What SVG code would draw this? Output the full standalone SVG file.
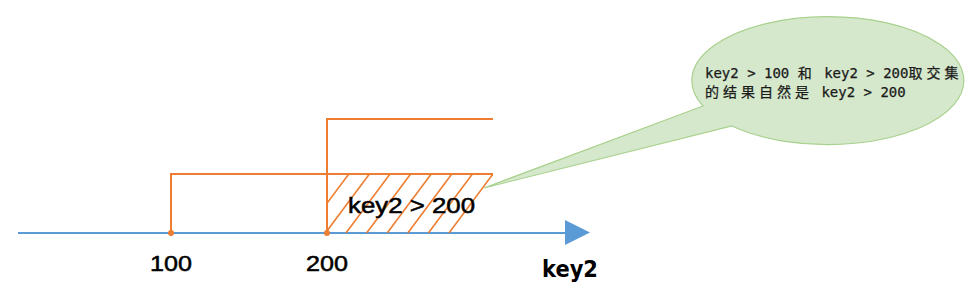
<svg xmlns="http://www.w3.org/2000/svg" width="971" height="295" viewBox="0 0 971 295">
<style>
.or{stroke:#ED7D31;stroke-width:2;fill:none}
.hatch{stroke:#ED7D31;stroke-width:1.6;fill:none}
.lbl{font-family:"Liberation Sans",Arial,sans-serif;font-size:22px;fill:#000;stroke:#000;stroke-width:0.5}
.cj{font-family:"DejaVu Sans Mono","Noto Sans CJK SC",monospace;font-size:14px;fill:#1a1a1a;stroke:#1a1a1a;stroke-width:0.25}
.cjk{font-family:"Noto Sans CJK SC",sans-serif;letter-spacing:4px}
</style>
<defs>
<clipPath id="hc"><rect x="327" y="174" width="166" height="59"/></clipPath>
</defs>
<rect width="971" height="295" fill="#fff"/>
<g id="connectors">
<line x1="18" y1="233" x2="567" y2="233" stroke="#5B9BD5" stroke-width="2"/>
<polygon points="565,220 590,232.5 565,245" fill="#5B9BD5"/>
<polyline class="or" points="171,233 171,174 493,174"/>
<polyline class="or" points="327,233 327,119 493,119"/>
<g clip-path="url(#hc)" class="hatch">
<line x1="493" y1="174" x2="449" y2="233"/>
<line x1="472.4" y1="174" x2="428.4" y2="233"/>
<line x1="451.8" y1="174" x2="407.8" y2="233"/>
<line x1="431.2" y1="174" x2="387.2" y2="233"/>
<line x1="410.6" y1="174" x2="366.6" y2="233"/>
<line x1="390" y1="174" x2="346" y2="233"/>
<line x1="369.4" y1="174" x2="325.4" y2="233"/>
<line x1="348.8" y1="174" x2="304.8" y2="233"/>
</g>
<circle cx="171" cy="233" r="3" fill="#ED7D31"/>
<circle cx="327" cy="233" r="3" fill="#ED7D31"/>
</g>
<g id="range-label">
<text class="lbl" x="348" y="213" textLength="127" lengthAdjust="spacingAndGlyphs">key2 &gt; 200</text>
</g>
<g id="tick-100"><text class="lbl" x="150" y="271" textLength="42" lengthAdjust="spacingAndGlyphs">100</text></g>
<g id="tick-200"><text class="lbl" x="306" y="271" textLength="42" lengthAdjust="spacingAndGlyphs">200</text></g>
<g id="axis-label"><text x="542" y="277" font-family="'DejaVu Sans',sans-serif" font-weight="bold" font-size="23" textLength="56" lengthAdjust="spacingAndGlyphs" fill="#000">key2</text></g>
<g id="callout">
<path d="M703,106 L484,188 L732,126 A136 64 0 1 0 703,106 Z" fill="#D5E8CC" stroke="#A9D18E" stroke-width="1.2"/>
<text class="cj" x="705" y="78">key2 &gt; 100 <tspan class="cjk">和</tspan> key2 &gt; 200<tspan class="cjk">取交集</tspan></text>
<text class="cj" x="705" y="97"><tspan class="cjk">的结果自然是</tspan> key2 &gt; 200</text>
</g>
</svg>
